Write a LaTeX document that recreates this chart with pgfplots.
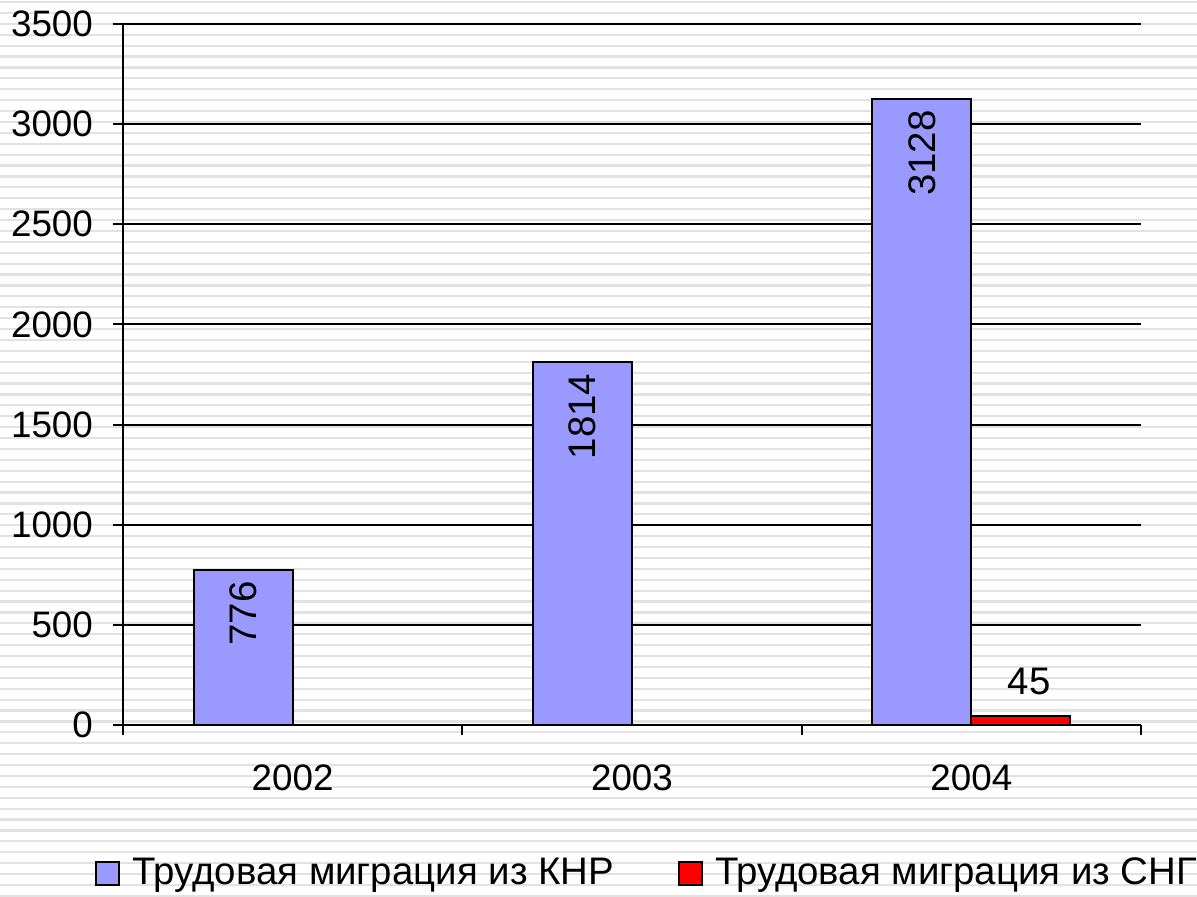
\documentclass[border=0pt]{standalone}
\usepackage{pgfplots}
\pgfplotsset{compat=1.18}
\usepackage{fontspec}
\setmainfont{Liberation Sans}
\definecolor{barblue}{RGB}{153,153,255}
\definecolor{barred}{RGB}{255,0,0}
\definecolor{stripe}{RGB}{226,226,226}
\begin{document}
\begin{tikzpicture}
\fill[white] (-61.5pt,-85.5pt) rectangle (537pt,362.5pt);
\foreach \i in {-12,...,70}
  \draw[stripe,line width=1.1pt] (-61.5pt,{-20pt+\i*5.45pt}) -- (537pt,{-20pt+\i*5.45pt});
\begin{axis}[
  at={(0,0)}, anchor=south west,
  scale only axis, width=509pt, height=350.5pt,
  xmin=-0.5, xmax=2.5, ymin=0, ymax=3500,
  ytick={0,500,...,3500},
  scaled y ticks=false,
  /pgf/number format/1000 sep={},
  /pgf/number format/assume math mode=true,
  font=\fontsize{18.4}{21}\selectfont,
  axis x line*=bottom, axis y line*=left,
  ymajorgrids, grid style={black, line width=1pt},
  axis line style={black, line width=1pt},
  tick style={black, line width=1pt},
  tick align=outside, major tick length=5pt,
  xtick={-0.5,0.5,1.5,2.5}, xticklabels={},
  extra x ticks={0,1,2}, extra x tick labels={2002,2003,2004},
  extra x tick style={major tick length=0pt, xticklabel style={yshift=-16.5pt}},
  yticklabel style={xshift=-6.5pt},
  sq legend/.style={legend image code/.code={\draw[##1, line width=1pt] (0pt,-5.75pt) rectangle (11.5pt,5.75pt);}},
  legend columns=2,
  legend style={at={(0,0)}, anchor=west, xshift=-14pt, yshift=-74pt,
    draw=none, fill=none, inner sep=0pt, font=\fontsize{19.2}{22}\selectfont,
    /tikz/every odd column/.append style={column sep=6pt},
    /tikz/every even column/.append style={column sep=32pt},
    nodes={inner sep=0pt}},
]
\addplot[ybar, bar width=49.5pt, bar shift=-24.75pt, fill=barblue, draw=black, line width=1pt, sq legend,
  nodes near coords,
  every node near coord/.append style={xshift=-24.75pt, rotate=90, anchor=east, inner sep=0pt, outer sep=6pt, black, font=\fontsize{19.2}{22}\selectfont}]
  coordinates {(0,776) (1,1814) (2,3128)};
\addlegendentry{Трудовая миграция из КНР}
\addplot[ybar, bar width=49.5pt, bar shift=24.75pt, fill=barred, draw=black, line width=1pt, sq legend,
  nodes near coords,
  every node near coord/.append style={xshift=29pt, anchor=south, inner sep=0pt, outer sep=10.5pt, black, font=\fontsize{19.2}{22}\selectfont}]
  coordinates {(2,45)};
\addlegendentry{Трудовая миграция из СНГ}
\end{axis}
\pgfresetboundingbox
\useasboundingbox (-61.5pt,-85.5pt) rectangle (537pt,362.5pt);
\end{tikzpicture}
\end{document}
